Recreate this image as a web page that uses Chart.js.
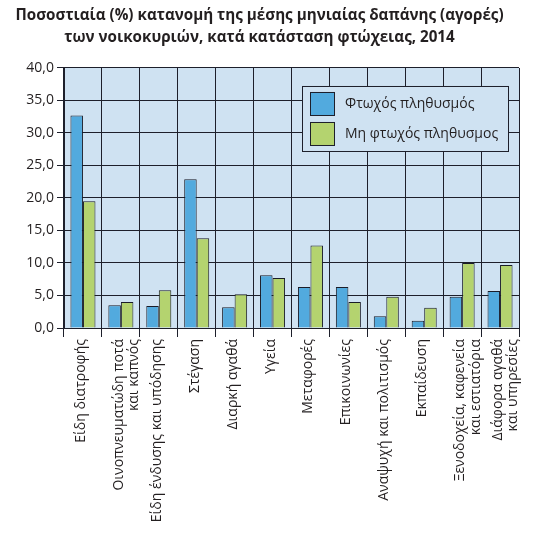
<!DOCTYPE html>
<html>
<head>
<meta charset="utf-8">
<script src="https://cdn.jsdelivr.net/npm/chart.js@4"></script>
<style>
  html, body { margin: 0; padding: 0; background: #fff; }
  #wrap { width: 553px; height: 544px; }
</style>
</head>
<body>
<div id="wrap"><canvas id="povertyChart"></canvas></div>
<script>
// categories and values (% of monthly spending)
const categories = [
  "Είδη διατροφής",
  ["Οινοπνευματώδη ποτά", "και καπνός"],
  "Είδη ένδυσης και υπόδησης",
  "Στέγαση",
  "Διαρκή αγαθά",
  "Υγεία",
  "Μεταφορές",
  "Επικοινωνίες",
  "Αναψυχή και πολιτισμός",
  "Εκπαίδευση",
  ["Ξενοδοχεία, καφενεία", "και εστιατόρια"],
  ["Διάφορα αγαθά", "και υπηρεσίες"],
];
const poorValues = [32.7, 3.5, 3.4, 22.9, 3.2, 8.1, 6.3, 6.3, 1.8, 1.1, 4.8, 5.7];
const nonPoorValues = [19.5, 4.0, 5.8, 13.8, 5.2, 7.7, 12.7, 4.0, 4.8, 3.1, 10.0, 9.7];
const seriesLabels = ["Φτωχός πληθυσμός", "Μη φτωχός πληθυσμος"];
const yTicks = [0, 5, 10, 15, 20, 25, 30, 35, 40];
const titleLines = [
  "Ποσοστιαία (%) κατανομή της μέσης μηνιαίας δαπάνης (αγορές)",
  "των νοικοκυριών, κατά κατάσταση φτώχειας, 2014",
];

const FONT = "'Open Sans', 'DejaVu Sans', sans-serif";
const GRID = "#1d1f2b";

// light blue plot background
const plotBackground = {
  id: "plotBackground",
  beforeDraw(chart) {
    const { ctx, chartArea: a } = chart;
    ctx.save();
    ctx.fillStyle = "#cfe2f2";
    ctx.fillRect(a.left, a.top, a.right - a.left, a.bottom - a.top);
    ctx.restore();
  },
};

// legend box drawn inside the plot, top right
const insideLegend = {
  id: "insideLegend",
  afterDatasetsDraw(chart) {
    const { ctx, chartArea: a } = chart;
    const x = a.left + 238, y = a.top + 18, w = 206, h = 65;
    ctx.save();
    ctx.fillStyle = "#cfe2f2";
    ctx.fillRect(x, y, w, h);
    ctx.strokeStyle = GRID;
    ctx.lineWidth = 1;
    ctx.strokeRect(x + 0.5, y + 0.5, w, h);
    ctx.font = "14px " + FONT;
    ctx.textBaseline = "middle";
    chart.data.datasets.forEach((ds, i) => {
      const sy = y + 6 + i * 30;
      ctx.fillStyle = ds.backgroundColor;
      ctx.fillRect(x + 8, sy, 24, 23);
      ctx.strokeRect(x + 8.5, sy + 0.5, 24, 23);
      ctx.fillStyle = "#231f20";
      ctx.fillText(ds.label, x + 43, sy + 12);
    });
    ctx.restore();
  },
};

new Chart(document.getElementById("povertyChart"), {
  type: "bar",
  data: {
    labels: categories,
    datasets: [
      {
        label: seriesLabels[0],
        data: poorValues,
        backgroundColor: "#52aade",
        borderColor: "#1a1c28",
        borderWidth: 1,
        categoryPercentage: 0.66,
        barPercentage: 1.0,
      },
      {
        label: seriesLabels[1],
        data: nonPoorValues,
        backgroundColor: "#b4d36f",
        borderColor: "#1a1c28",
        borderWidth: 1,
        categoryPercentage: 0.66,
        barPercentage: 1.0,
      },
    ],
  },
  options: {
    responsive: true,
    maintainAspectRatio: false,
    animation: false,
    layout: { padding: { left: 0, right: 34, top: 4, bottom: 0 } },
    plugins: {
      legend: { display: false },
      tooltip: { enabled: false },
      title: {
        display: true,
        text: titleLines,
        color: "#231f20",
        font: { family: FONT, size: 15.2, weight: "bold", lineHeight: 1.48 },
        padding: { top: 0, bottom: 19 },
      },
    },
    scales: {
      x: {
        afterFit(scale) { scale.height = 216; },
        grid: {
          offset: true,
          color: GRID,
          lineWidth: 1,
          drawTicks: true,
          tickLength: 9,
        },
        border: { color: GRID, width: 1 },
        ticks: {
          color: "#231f20",
          font: { family: FONT, size: 14, lineHeight: 1.1 },
          minRotation: 90,
          maxRotation: 90,
          autoSkip: false,
          padding: 2,
          labelOffset: -2,
        },
      },
      y: {
        min: yTicks[0],
        max: yTicks[yTicks.length - 1],
        afterFit(scale) { scale.width = 64; },
        afterBuildTicks(scale) { scale.ticks = yTicks.map(v => ({ value: v })); },
        grid: { color: GRID, lineWidth: 1, tickLength: 7 },
        border: { color: GRID, width: 1 },
        ticks: {
          color: "#231f20",
          font: { family: FONT, size: 14 },
          padding: 3,
          callback: v => v.toFixed(1).replace(".", ","),
        },
      },
    },
  },
  plugins: [plotBackground, insideLegend],
});
</script>
</body>
</html>
